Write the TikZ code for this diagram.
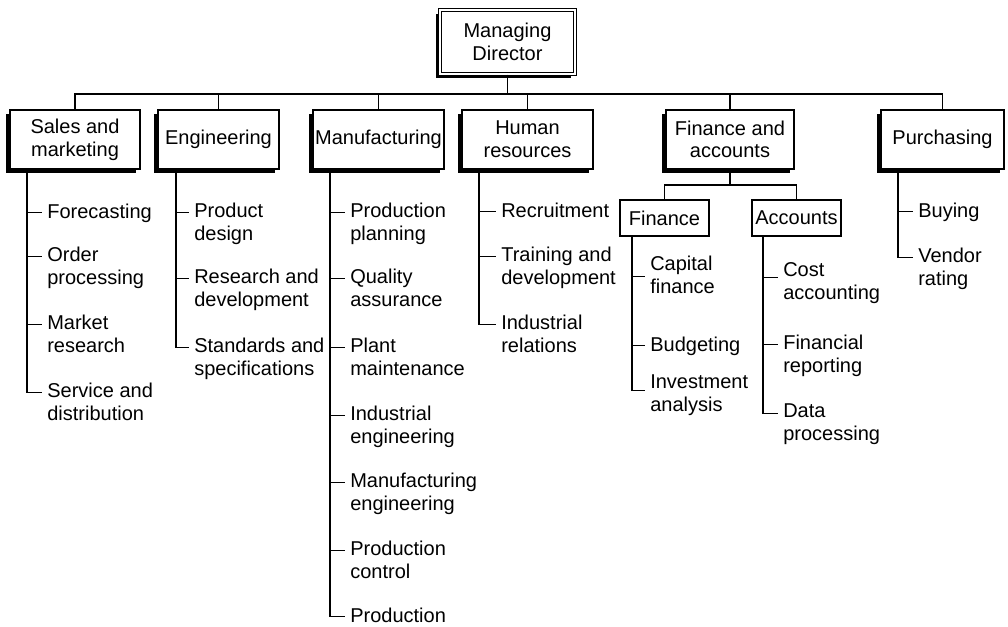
\documentclass[tikz,border=0pt]{standalone}
\usepackage{fontspec}
\setmainfont{Liberation Sans}
\usetikzlibrary{shadows}

\tikzset{
  unit/.style={draw, line width=0.8pt, fill=white, align=center, inner sep=0pt,
    minimum height=44.25pt, font=\fontsize{15}{17}\selectfont,
    drop shadow={shadow xshift=-2.8pt, shadow yshift=-2.8pt, opacity=1, fill=black}},
  head/.style={unit, double, line width=0.9pt, double distance=1.2pt},
  sub/.style={draw, line width=0.8pt, fill=white, inner sep=0pt,
    minimum width=66.75pt, minimum height=27pt, font=\fontsize{15}{17}\selectfont},
  item/.style={anchor=north west, align=left, inner xsep=4pt, inner ysep=0pt,
    font=\fontsize{15}{17}\selectfont, execute at begin node=\strut},
  link/.style={line width=0.8pt}
}

\begin{document}
\begin{tikzpicture}[x=0.75pt, y=-0.75pt]
  \useasboundingbox (0,0) rectangle (1008,626);

  % top and departments
  \node[head, minimum width=101pt, minimum height=48pt] (md) at (507.5,42) {Managing\\Director};
  \node[unit, minimum width=97.5pt]  (sales) at (75,139.5)    {Sales and\\marketing};
  \node[unit, minimum width=90.75pt] (eng)   at (218.5,139.5) {Engineering};
  \node[unit, minimum width=98.25pt] (manuf) at (378.5,139.5) {Manufacturing};
  \node[unit, minimum width=98.25pt] (hr)    at (527.5,139.5) {Human\\resources};
  \node[unit, minimum width=96pt]    (fa)    at (730,139.5)   {Finance and\\accounts};
  \node[unit, minimum width=92.25pt] (purch) at (942.5,139.5) {Purchasing};

  \coordinate (bus) at (507.5,94);
  \draw[link] (sales.north) |- (bus) -| (purch.north);
  \draw[link] (md.south) -- (md.south |- bus);
  \foreach \d in {eng,manuf,hr,fa} \draw[link] (\d.north) -- (\d.north |- bus);

  % finance and accounts split
  \node[sub] (fin) at (664.5,218) {Finance};
  \node[sub] (acc) at (796.5,218) {Accounts};
  \coordinate (fab) at (730,185);
  \draw[link] (fa.south) -- (fab);
  \draw[link] (fin.north) |- (fab) -| (acc.north);

  % sales and marketing
  \coordinate (st) at (sales.south -| 27,0);
  \node[item] (s1) at (41.7,202.7) {Forecasting};
  \node[item] (s2) at (41.7,246.7) {Order\\processing};
  \node[item] (s3) at (41.7,314.7) {Market\\research};
  \node[item] (s4) at (41.7,382.7) {Service and\\distribution};
  \foreach \i in {1,...,4} \draw[link] (st) |- ([yshift=-7pt]s\i.north west);

  % engineering
  \coordinate (et) at (eng.south -| 176,0);
  \node[item] (e1) at (188.7,202.7) {Product\\design};
  \node[item] (e2) at (188.7,268.7) {Research and\\development};
  \node[item] (e3) at (188.7,337.7) {Standards and\\specifications};
  \foreach \i in {1,...,3} \draw[link] (et) |- ([yshift=-7pt]e\i.north west);

  % manufacturing
  \coordinate (mt) at (manuf.south -| 330,0);
  \node[item] (m1) at (344.7,202.7) {Production\\planning};
  \node[item] (m2) at (344.7,268.7) {Quality\\assurance};
  \node[item] (m3) at (344.7,337.7) {Plant\\maintenance};
  \node[item] (m4) at (344.7,405.7) {Industrial\\engineering};
  \node[item] (m5) at (344.7,472.7) {Manufacturing\\engineering};
  \node[item] (m6) at (344.7,540.7) {Production\\control};
  \node[item] (m7) at (344.7,606.7) {Production};
  \foreach \i in {1,...,7} \draw[link] (mt) |- ([yshift=-7pt]m\i.north west);

  % human resources
  \coordinate (ht) at (hr.south -| 479,0);
  \node[item] (h1) at (495.7,201.7) {Recruitment};
  \node[item] (h2) at (495.7,246.7) {Training and\\development};
  \node[item] (h3) at (495.7,314.7) {Industrial\\relations};
  \foreach \i in {1,...,3} \draw[link] (ht) |- ([yshift=-7pt]h\i.north west);

  % finance
  \coordinate (ft) at (fin.south -| 632,0);
  \node[item] (f1) at (644.7,255.7) {Capital\\finance};
  \node[item] (f2) at (644.7,335.7) {Budgeting};
  \node[item] (f3) at (644.7,374.7) {Investment\\analysis};
  \foreach \n/\d in {f1/15.25, f2/7, f3/11.5} \draw[link] (ft) |- ([yshift=-\d pt]\n.north west);

  % accounts
  \coordinate (at) at (acc.south -| 763,0);
  \node[item] (a1) at (777.7,262.7) {Cost\\accounting};
  \node[item] (a2) at (777.7,334.7) {Financial\\reporting};
  \node[item] (a3) at (777.7,403.7) {Data\\processing};
  \foreach \n/\d in {a1/10.75, a2/7, a3/7} \draw[link] (at) |- ([yshift=-\d pt]\n.north west);

  % purchasing
  \coordinate (pt) at (purch.south -| 898,0);
  \node[item] (p1) at (912.7,201.7) {Buying};
  \node[item] (p2) at (912.7,247.7) {Vendor\\rating};
  \foreach \i in {1,2} \draw[link] (pt) |- ([yshift=-7pt]p\i.north west);
\end{tikzpicture}
\end{document}
